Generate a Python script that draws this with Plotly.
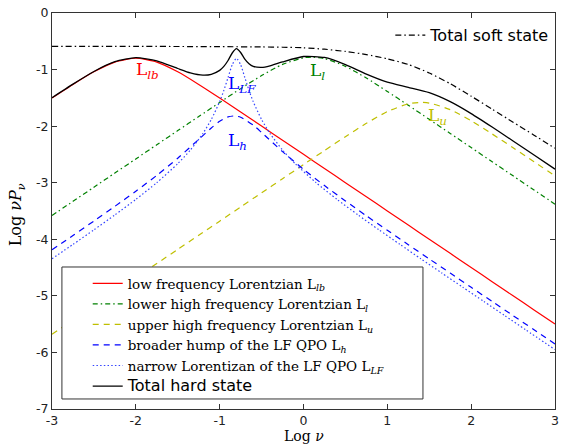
import plotly.graph_objects as go

# ---- data ----
x_grid = [-3.0, -2.75, -2.5, -2.25, -2.0, -1.75, -1.5, -1.25, -1.0, -0.75, -0.5, -0.25,
          0.0, 0.25, 0.5, 0.75, 1.0, 1.25, 1.5, 1.75, 2.0, 2.25, 2.5, 2.75, 3.0]

lb_y = [-1.503, -1.263, -1.040, -0.868, -0.800, -0.868, -1.040, -1.263, -1.503, -1.750,
        -1.999, -2.249, -2.499, -2.749, -2.999, -3.249, -3.499, -3.749, -3.999, -4.249,
        -4.499, -4.749, -4.999, -5.249, -5.499]

l_x = [-3.0, -2.75, -2.5, -2.25, -2.0, -1.75, -1.5, -1.25, -1.0, -0.75, -0.5, -0.25,
       0.0, 0.1, 0.25, 0.5, 0.75, 1.0, 1.25, 1.5, 1.75, 2.0, 2.25, 2.5, 2.75, 3.0]
l_y = [-3.579, -3.329, -3.079, -2.829, -2.579, -2.329, -2.079, -1.830, -1.582, -1.338,
       -1.106, -0.908, -0.792, -0.780, -0.805, -0.943, -1.150, -1.386, -1.631, -1.880,
       -2.129, -2.379, -2.629, -2.879, -3.129, -3.379]

u_x = [-3.0, -2.75, -2.5, -2.25, -2.0, -1.75, -1.5, -1.25, -1.0, -0.75, -0.5, -0.25,
       0.0, 0.25, 0.5, 0.75, 1.0, 1.25, 1.4, 1.5, 1.75, 2.0, 2.25, 2.5, 2.75, 3.0]
u_y = [-5.679, -5.429, -5.179, -4.929, -4.679, -4.429, -4.179, -3.929, -3.679, -3.429,
       -3.179, -2.929, -2.680, -2.431, -2.186, -1.950, -1.743, -1.605, -1.580, -1.592,
       -1.708, -1.906, -2.138, -2.382, -2.630, -2.879]

h_x = [-3.0, -2.75, -2.5, -2.25, -2.0, -1.75, -1.5, -1.25, -1.1, -1.0, -0.9, -0.83,
       -0.75, -0.6, -0.5, -0.25, 0.0, 0.25, 0.5, 0.75, 1.0, 1.25, 1.5, 1.75, 2.0,
       2.25, 2.5, 2.75, 3.0]
h_y = [-4.186, -3.933, -3.677, -3.418, -3.150, -2.870, -2.567, -2.235, -2.033, -1.915,
       -1.837, -1.820, -1.842, -1.982, -2.112, -2.451, -2.764, -3.051, -3.322, -3.585,
       -3.841, -4.095, -4.347, -4.598, -4.849, -5.099, -5.349, -5.599, -5.850]

lf_x = [-3.0, -2.75, -2.5, -2.25, -2.0, -1.75, -1.5, -1.35, -1.2, -1.1, -1.0, -0.95,
        -0.9, -0.85, -0.8, -0.75, -0.7, -0.65, -0.6, -0.5, -0.4, -0.25, -0.1, 0.15,
        0.4, 0.65, 0.9, 1.15, 1.4, 1.65, 1.9, 2.15, 2.4, 2.65, 3.0]
lf_y = [-4.345, -4.090, -3.833, -3.569, -3.295, -2.999, -2.663, -2.423, -2.130, -1.883,
        -1.566, -1.368, -1.141, -0.913, -0.800, -0.913, -1.141, -1.368, -1.566, -1.883,
        -2.130, -2.423, -2.663, -2.999, -3.295, -3.569, -3.833, -4.090, -4.345, -4.597,
        -4.848, -5.099, -5.349, -5.600, -5.950]

hard_x = [-3.0, -2.75, -2.5, -2.25, -2.0, -1.75, -1.5, -1.35, -1.2, -1.1, -1.0, -0.95,
          -0.9, -0.85, -0.8, -0.75, -0.7, -0.65, -0.6, -0.5, -0.4, -0.25, 0.0, 0.25,
          0.5, 0.75, 1.0, 1.25, 1.5, 1.75, 2.0, 2.25, 2.5, 2.75, 3.0]
hard_y = [-1.498, -1.258, -1.034, -0.861, -0.790, -0.846, -0.981, -1.058, -1.098, -1.084,
          -1.014, -0.944, -0.840, -0.707, -0.630, -0.698, -0.816, -0.899, -0.944, -0.962,
          -0.934, -0.865, -0.769, -0.786, -0.912, -1.081, -1.224, -1.314, -1.408, -1.567,
          -1.778, -2.016, -2.262, -2.510, -2.760]

soft_x = [-3.0, -2.0, -1.0, -0.5, -0.25, 0.0, 0.25, 0.5, 0.75, 1.0, 1.25, 1.5, 1.75,
          2.0, 2.25, 2.5, 2.75, 3.0]
soft_y = [-0.59, -0.59, -0.595, -0.60, -0.605, -0.615, -0.64, -0.68, -0.735, -0.81,
          -0.91, -1.06, -1.25, -1.47, -1.70, -1.93, -2.16, -2.39]

x_ticks = [-3, -2, -1, 0, 1, 2, 3]
x_ticktext = ["-3", "-2", "-1", "0", "1", "2", "3"]
y_ticks = [-7, -6, -5, -4, -3, -2, -1, 0]
y_ticktext = ["-7", "-6", "-5", "-4", "-3", "-2", "-1", "0"]

names = [
    "low frequency Lorentzian L<sub><i>lb</i></sub>",
    "lower high frequency Lorentzian L<sub><i>l</i></sub>",
    "upper high frequency Lorentzian L<sub><i>u</i></sub>",
    "broader hump of the LF QPO L<sub><i>h</i></sub>",
    "narrow Lorentizan of the LF QPO L<sub><i>LF</i></sub>",
    "<span style='font-family:DejaVu Sans;font-size:16px'>Total hard state</span>",
    "Total soft state",
]

RED, GREEN, YEL, BLUE = "#ff0000", "#008000", "#bfbf00", "#0000ff"
SERIF = "DejaVu Serif, serif"
SANS = "DejaVu Sans, sans-serif"

fig = go.Figure()
sp = dict(shape="spline", smoothing=0.6)
fig.add_trace(go.Scatter(x=x_grid, y=lb_y, mode="lines", name=names[0],
                         line=dict(color=RED, width=1.2, **sp)))
fig.add_trace(go.Scatter(x=l_x, y=l_y, mode="lines", name=names[1],
                         line=dict(color=GREEN, width=1.2, dash="5px,3px,1.5px,3px", **sp)))
fig.add_trace(go.Scatter(x=u_x, y=u_y, mode="lines", name=names[2],
                         line=dict(color=YEL, width=1.2, dash="6px,5px", **sp)))
fig.add_trace(go.Scatter(x=h_x, y=h_y, mode="lines", name=names[3],
                         line=dict(color=BLUE, width=1.2, dash="6px,5px", **sp)))
fig.add_trace(go.Scatter(x=lf_x, y=lf_y, mode="lines", name=names[4],
                         line=dict(color="#3344ff", width=1.2, dash="1.5px,2.2px", **sp)))
fig.add_trace(go.Scatter(x=hard_x, y=hard_y, mode="lines", name=names[5],
                         line=dict(color="black", width=1.3, **sp)))
fig.add_trace(go.Scatter(x=soft_x, y=soft_y, mode="lines", name=names[6], legend="legend2",
                         line=dict(color="black", width=1.2, dash="6px,3px,1.5px,3px", **sp)))

axis_common = dict(showgrid=False, zeroline=False, showline=True, linecolor="#333",
                   linewidth=1, mirror="ticks", ticks="inside", ticklen=5, tickcolor="#333",
                   tickfont=dict(family=SANS, size=12.5, color="#222"))
fig.update_xaxes(range=[-3, 3], tickvals=x_ticks, ticktext=x_ticktext, **axis_common)
fig.update_yaxes(range=[-7, 0], tickvals=y_ticks, ticktext=y_ticktext, **axis_common)

# legend frame
fig.add_shape(type="rect", xref="paper", yref="paper", x0=0.0197, x1=0.7375,
              y0=0.0253, y1=0.3586, line=dict(color="#333", width=1),
              fillcolor="white", layer="above")

labels = [
    (-1.864, -1.01, "L<sub><i>lb</i></sub>", RED),
    (-0.728, -1.26, "L<sub><i>LF</i></sub>", BLUE),
    (-0.787, -2.27, "L<sub><i>h</i></sub>", BLUE),
    (0.17, -1.03, "L<sub><i>l</i></sub>", GREEN),
    (1.60, -1.83, "L<sub><i>u</i></sub>", YEL),
]
for lx, ly, txt, col in labels:
    fig.add_annotation(x=lx, y=ly, text=txt, showarrow=False,
                       font=dict(family=SERIF, size=17, color=col))

fig.add_annotation(xref="paper", yref="paper", x=0.5, y=-0.067, xanchor="center",
                   yanchor="middle", text="Log <i>ν</i>", showarrow=False,
                   font=dict(family=SERIF, size=14, color="black"))
fig.add_annotation(xref="paper", yref="paper", x=-0.069, y=0.49, xanchor="center",
                   yanchor="middle", textangle=-90,
                   text="Log <i>νP</i><sub><i>ν</i></sub>", showarrow=False,
                   font=dict(family=SERIF, size=16, color="black"))

fig.update_layout(
    width=564, height=444,
    margin=dict(l=52, r=5, t=13, b=35),
    plot_bgcolor="white", paper_bgcolor="white",
    font=dict(family=SERIF, size=13.5, color="black"),
    showlegend=True,
    legend=dict(x=0.071, y=0.356, xanchor="left", yanchor="top",
                bgcolor="rgba(0,0,0,0)", borderwidth=0, itemwidth=30,
                font=dict(family=SERIF, size=13.5, color="black"),
                tracegroupgap=0),
    legend2=dict(x=0.6726, y=0.987, xanchor="left", yanchor="top",
                 bgcolor="rgba(0,0,0,0)", borderwidth=0, itemwidth=30,
                 font=dict(family=SANS, size=16, color="black")),
)

fig.write_html("out.html")
